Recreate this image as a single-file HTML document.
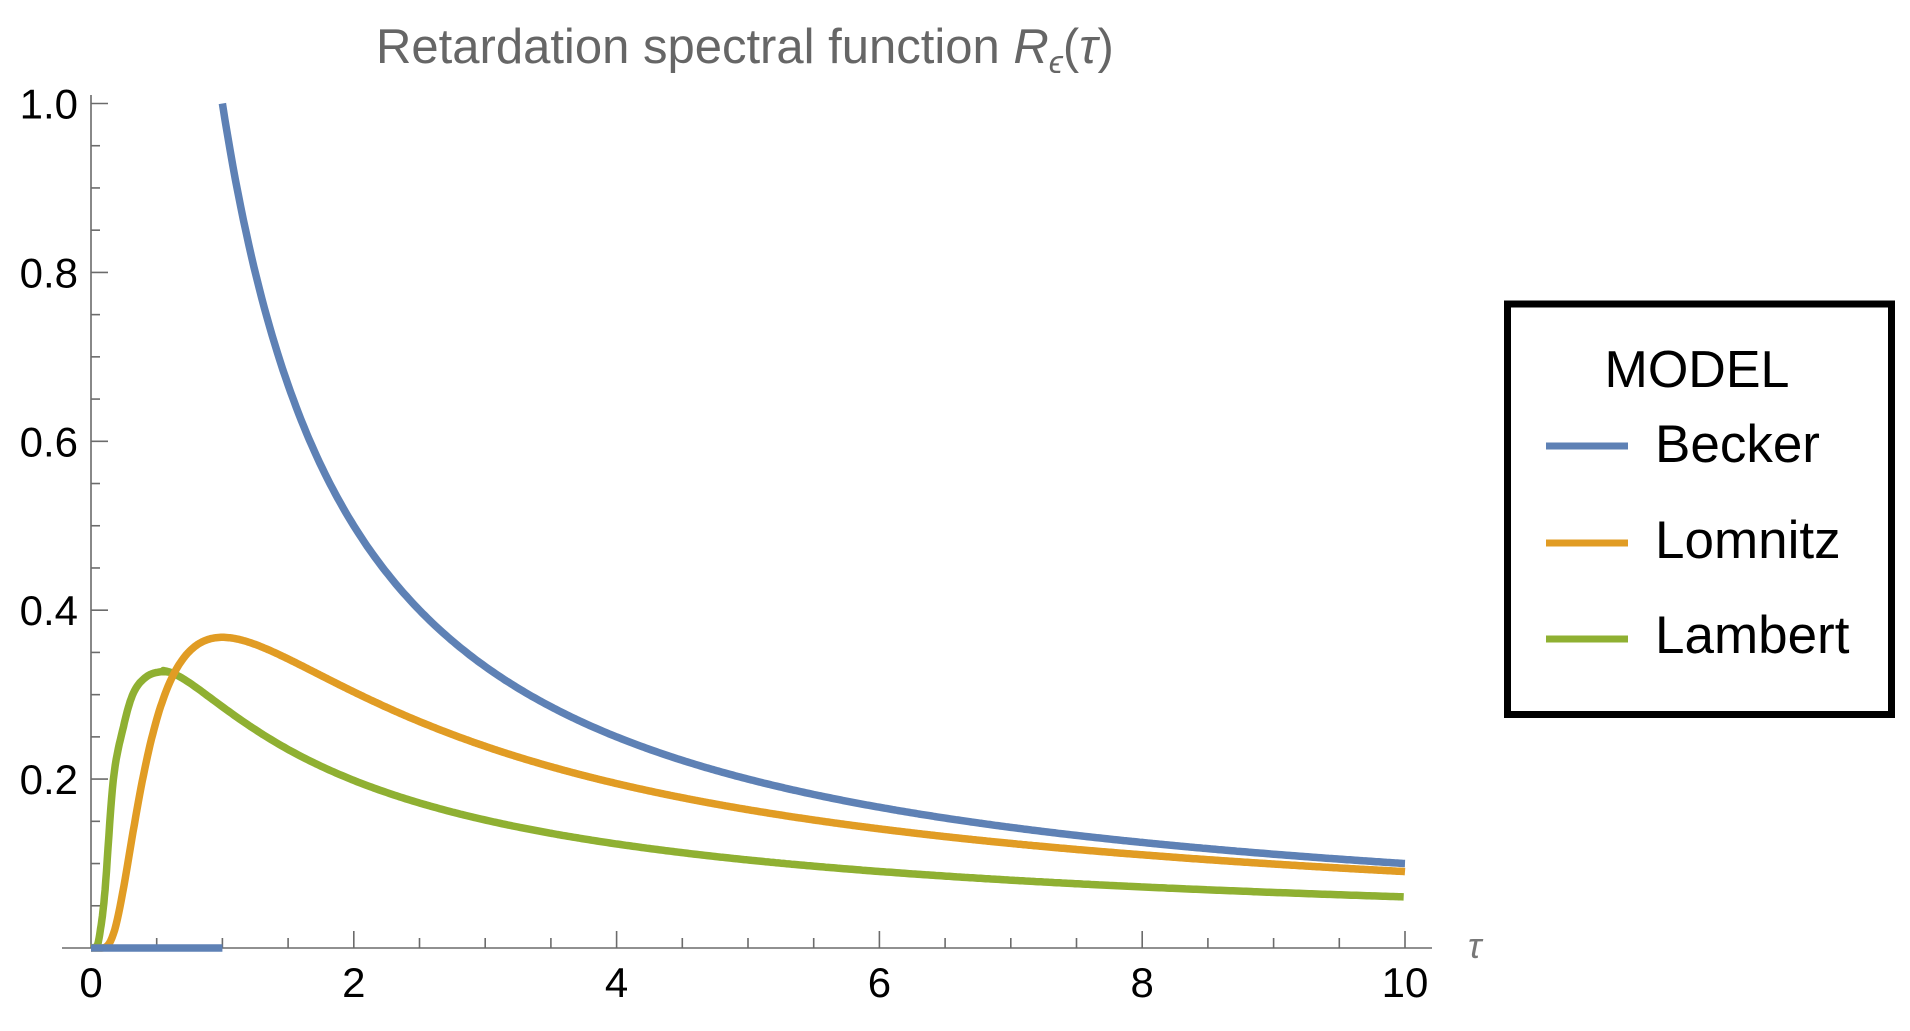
<!DOCTYPE html>
<html><head><meta charset="utf-8"><style>
html,body{margin:0;padding:0;background:#fff;}
svg{display:block;}
</style></head><body>
<svg id="s" width="1910" height="1031" viewBox="0 0 1910 1031" xmlns="http://www.w3.org/2000/svg" font-family="Liberation Sans, sans-serif">
<rect width="1910" height="1031" fill="#fff"/>
<text x="376" y="63" font-size="49" fill="#666">Retardation spectral function <tspan font-style="italic">R</tspan><tspan font-size="32" dy="10" font-style="italic">ϵ</tspan><tspan dy="-10">(</tspan><tspan font-style="italic">τ</tspan>)</text>
<g id="axes" stroke="#6b6b6b" stroke-width="1.6"></g>
<g id="labels" font-size="42" fill="#000"></g>
<text x="1468" y="958" font-size="36" fill="#777" font-style="italic">τ</text>
<path id="pl" fill="none" stroke="#8FB032" stroke-width="7.5" stroke-linejoin="round"/>
<path id="po" fill="none" stroke="#E19C24" stroke-width="7.5" stroke-linejoin="round"/>
<path id="pb" fill="none" stroke="#5E81B5" stroke-width="7.5" stroke-linejoin="round"/>
<rect x="1507.5" y="304" width="384" height="410.5" fill="none" stroke="#000" stroke-width="7"/>
<text x="1697" y="387" font-size="52" text-anchor="middle">MODEL</text>
<line x1="1546" y1="446" x2="1628" y2="446" stroke="#5E81B5" stroke-width="7"/>
<line x1="1546" y1="543" x2="1628" y2="543" stroke="#E19C24" stroke-width="7"/>
<line x1="1546" y1="639" x2="1628" y2="639" stroke="#8FB032" stroke-width="7"/>
<text x="1655" y="462" font-size="53">Becker</text>
<text x="1655" y="558" font-size="53">Lomnitz</text>
<text x="1655" y="653" font-size="53">Lambert</text>
</svg>
<script>
var X0=91,UX=131.4,Y0=948,UY=844.5;
function px(t){return X0+t*UX;} function py(v){return Y0-v*UY;}
var ns="http://www.w3.org/2000/svg";
function el(p,n,a,txt){var e=document.createElementNS(ns,n);for(var k in a)e.setAttribute(k,a[k]);if(txt!=null)e.textContent=txt;p.appendChild(e);return e;}
var ax=document.getElementById('axes'),lb=document.getElementById('labels');
el(ax,'line',{x1:62,y1:Y0,x2:1432,y2:Y0});
el(ax,'line',{x1:X0,y1:Y0,x2:X0,y2:95});
for(var i=1;i<=20;i++){var t=i*0.5,maj=(i%4==0);el(ax,'line',{x1:px(t),y1:Y0,x2:px(t),y2:Y0-(maj?17:10)});}
for(var i=1;i<=20;i++){var v=i*0.05,maj=(i%4==0);el(ax,'line',{x1:X0,y1:py(v),x2:X0+(maj?17:9),y2:py(v)});}
for(var k=0;k<=10;k+=2)el(lb,'text',{x:px(k),y:997,'text-anchor':'middle'},String(k));
['0.2','0.4','0.6','0.8','1.0'].forEach(function(s){el(lb,'text',{x:78,y:py(parseFloat(s))+15,'text-anchor':'end'},s);});
var d='M'+px(0)+','+Y0+' L'+px(1)+','+Y0+' M'+px(1)+','+py(1);
for(var t=1;t<=10.0001;t+=0.02)d+=' L'+px(t).toFixed(1)+','+py(1/t).toFixed(1);
document.getElementById('pb').setAttribute('d',d);
d='M'+px(0)+','+Y0;
for(var t=0.01;t<=10.0001;t+=0.01)d+=' L'+px(t).toFixed(1)+','+py(Math.exp(-1/t)/t).toFixed(1);
document.getElementById('po').setAttribute('d',d);
// Lambert: interpolated rise, fitted tail
var P=[[0,0],[0.04,0],[0.07,0.02],[0.107,0.069],[0.17,0.199],[0.247,0.262],[0.323,0.302],[0.42,0.321],[0.53,0.327],[0.64,0.325],[0.75,0.318]];
d='M'+px(0)+','+Y0;
for(var i=1;i<P.length-2;i++){var p0=P[Math.max(0,i-1)],p1=P[i],p2=P[i+1],p3=P[Math.min(P.length-1,i+2)];
 for(var s=0.1;s<=1.0001;s+=0.1){var s2=s*s,s3=s2*s;
  var x=0.5*((2*p1[0])+(-p0[0]+p2[0])*s+(2*p0[0]-5*p1[0]+4*p2[0]-p3[0])*s2+(-p0[0]+3*p1[0]-3*p2[0]+p3[0])*s3);
  var y=0.5*((2*p1[1])+(-p0[1]+p2[1])*s+(2*p0[1]-5*p1[1]+4*p2[1]-p3[1])*s2+(-p0[1]+3*p1[1]-3*p2[1]+p3[1])*s3);
  d+=' L'+px(x).toFixed(1)+','+py(Math.max(0,y)).toFixed(1);}}
function lam(t){return 0.448*Math.exp(-0.45/t)*Math.pow(t,-0.85);}
for(var t=0.55;t<=10.0001;t+=0.02)d+=' L'+px(t).toFixed(1)+','+py(lam(t)).toFixed(1);
document.getElementById('pl').setAttribute('d',d);
</script>
</body></html>
